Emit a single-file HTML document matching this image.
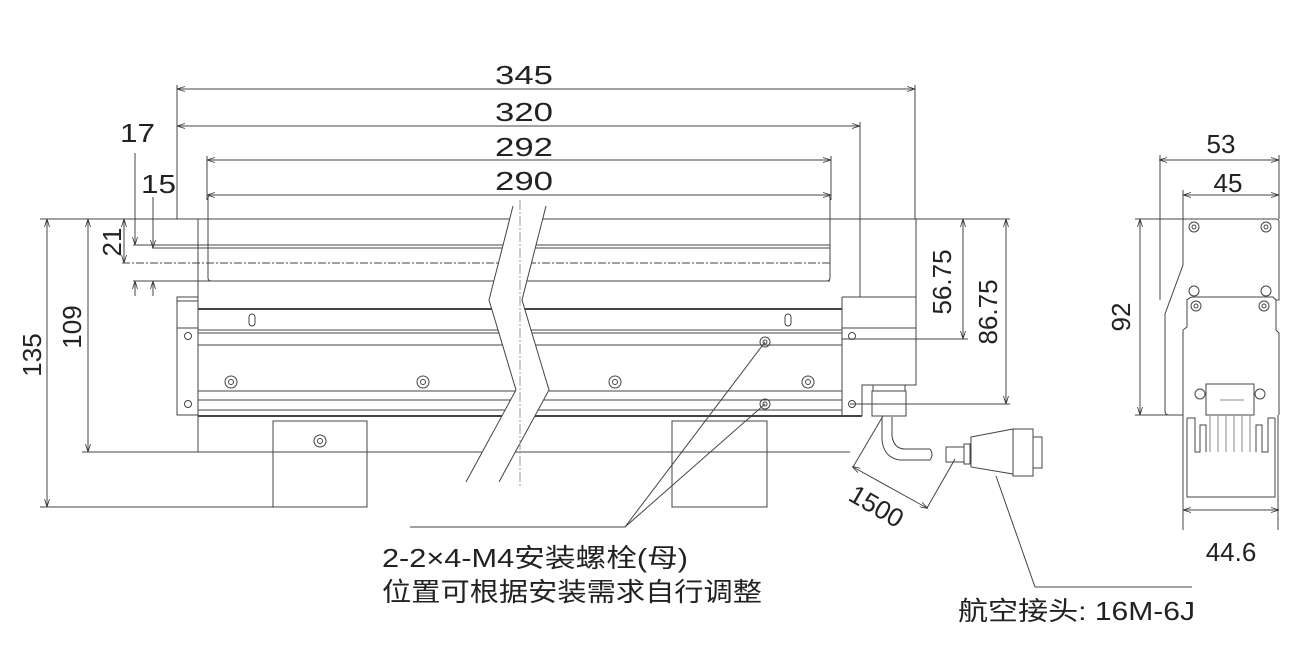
<!DOCTYPE html>
<html><head><meta charset="utf-8"><style>
html,body{margin:0;padding:0;background:#fff;width:1305px;height:653px;overflow:hidden}
text{font-family:"Liberation Sans","Noto Sans CJK SC",sans-serif;fill:#222}
</style></head><body>
<svg width="1305" height="653" viewBox="0 0 1305 653" xmlns="http://www.w3.org/2000/svg">
<defs><marker id="a" markerWidth="8" markerHeight="6" refX="7" refY="3" orient="auto-start-reverse" markerUnits="userSpaceOnUse"><path d="M0,0.5 L8,3 L0,5.5" fill="none" stroke="#333" stroke-width="0.8"/></marker></defs>
<g stroke="#444" stroke-width="1" fill="none">
<line x1="178" y1="89" x2="914" y2="89" marker-start="url(#a)" marker-end="url(#a)"/>
<line x1="178" y1="126" x2="859" y2="126" marker-start="url(#a)" marker-end="url(#a)"/>
<line x1="208" y1="160" x2="830" y2="160" marker-start="url(#a)" marker-end="url(#a)"/>
<line x1="208" y1="195" x2="830" y2="195" marker-start="url(#a)" marker-end="url(#a)"/>
<line x1="177" y1="85" x2="177" y2="219"/><line x1="915" y1="85" x2="915" y2="219"/>
<line x1="860" y1="122" x2="860" y2="219"/><line x1="207" y1="156" x2="207" y2="200"/><line x1="831" y1="156" x2="831" y2="200"/>
<line x1="40" y1="219" x2="1010" y2="219"/>
<line x1="40" y1="507" x2="273" y2="507"/>
<line x1="82" y1="452" x2="198" y2="452"/>
<line x1="47" y1="220" x2="47" y2="506" marker-start="url(#a)" marker-end="url(#a)"/>
<line x1="88" y1="220" x2="88" y2="451" marker-start="url(#a)" marker-end="url(#a)"/>
<line x1="124" y1="220" x2="124" y2="262" marker-start="url(#a)" marker-end="url(#a)"/>
<line x1="135" y1="153" x2="135" y2="244" marker-end="url(#a)"/>
<line x1="153" y1="197" x2="153" y2="247" marker-end="url(#a)"/>
<line x1="135" y1="296" x2="135" y2="282" marker-end="url(#a)"/>
<line x1="153" y1="296" x2="153" y2="282" marker-end="url(#a)"/>
<line x1="133" y1="245" x2="830" y2="245"/>
<line x1="152" y1="248" x2="830" y2="248"/>
<line x1="122" y1="263" x2="830" y2="263" stroke-dasharray="8 2 2 2"/>
<line x1="133" y1="281" x2="830" y2="281"/>
<rect x="208" y="195" width="622" height="86" rx="3"/>
<rect x="177" y="297" width="21" height="118"/><line x1="177" y1="328" x2="198" y2="328"/><line x1="177" y1="301" x2="198" y2="301"/>
<line x1="198" y1="219" x2="198" y2="452"/>
<line x1="198" y1="452" x2="850" y2="452"/>
<line x1="198" y1="309" x2="842" y2="309" stroke-width="2"/>
<line x1="198" y1="330" x2="842" y2="330"/><line x1="198" y1="333" x2="842" y2="333"/>
<line x1="198" y1="345" x2="842" y2="345"/>
<line x1="198" y1="391" x2="842" y2="391"/><line x1="198" y1="400" x2="842" y2="400"/><line x1="198" y1="410" x2="842" y2="410"/>
<line x1="198" y1="416" x2="862" y2="416" stroke-width="2"/>
<rect x="273" y="421" width="94" height="86"/><rect x="672" y="421" width="95" height="86"/>
<line x1="842" y1="297" x2="842" y2="416"/>
<polyline points="842,297 916,297 916,385 862,385 862,416"/>
<line x1="842" y1="328" x2="916" y2="328"/>
<line x1="860" y1="219" x2="860" y2="297"/><line x1="916" y1="219" x2="916" y2="297"/>
<circle cx="188" cy="336" r="3.5"/><circle cx="188" cy="404" r="3.5"/>
<circle cx="852" cy="336" r="3.5"/><circle cx="852" cy="404" r="3.5"/>
<g><circle cx="231" cy="382" r="6"/><circle cx="231" cy="382" r="2.5"/><circle cx="423" cy="382" r="6"/><circle cx="423" cy="382" r="2.5"/><circle cx="615" cy="382" r="6"/><circle cx="615" cy="382" r="2.5"/><circle cx="808" cy="382" r="6"/><circle cx="808" cy="382" r="2.5"/><circle cx="320" cy="441" r="6"/><circle cx="320" cy="441" r="2.5"/><circle cx="765" cy="342" r="5"/><circle cx="765" cy="342" r="2"/><circle cx="765" cy="404" r="5"/><circle cx="765" cy="404" r="2"/></g>
<rect x="249" y="314" width="6" height="12" rx="3"/><rect x="785" y="314" width="6" height="12" rx="3"/>
<polygon points="513,206 489,300 516,390 466,482 499,482 549,390 522,300 546,206" fill="#fff" stroke="none"/>
<polyline points="513,206 489,300 516,390 466,482"/>
<polyline points="546,206 522,300 549,390 499,482"/>
<line x1="520" y1="200" x2="520" y2="486" stroke-dasharray="10 2 2 2" stroke="#999"/>
<line x1="842" y1="339" x2="968" y2="339"/><line x1="850" y1="404" x2="1010" y2="404"/>
<line x1="963" y1="220" x2="963" y2="338" marker-start="url(#a)" marker-end="url(#a)"/>
<line x1="1006" y1="220" x2="1006" y2="403" marker-start="url(#a)" marker-end="url(#a)"/>
<rect x="873" y="385" width="32" height="6"/><rect x="872" y="391" width="34" height="25"/><line x1="872" y1="404" x2="906" y2="404"/>
<path d="M882,417 L882,440 Q884,458 900,460 L930,460 M892,417 L892,436 Q894,449 905,449 L930,449"/>
<path d="M930,449 Q934,455 930,460"/>
<rect x="946" y="447" width="18" height="15"/><rect x="964" y="444" width="6" height="20"/>
<polygon points="971,437 1013,429 1013,474 971,467"/>
<rect x="1013" y="429" width="20" height="47"/><rect x="1033" y="437" width="9" height="31"/>
<line x1="883" y1="416" x2="853" y2="467"/><line x1="955" y1="459" x2="927" y2="508"/>
<line x1="853" y1="467" x2="927" y2="508" marker-start="url(#a)" marker-end="url(#a)"/>
<polyline points="996,476 1035,587 1192,587"/>
<polyline points="765,342 625,527 410,527"/><line x1="765" y1="404" x2="625" y2="527"/>
<line x1="1160" y1="160" x2="1278" y2="160" marker-start="url(#a)" marker-end="url(#a)"/>
<line x1="1184" y1="195" x2="1278" y2="195" marker-start="url(#a)" marker-end="url(#a)"/>
<line x1="1160" y1="155" x2="1160" y2="300"/><line x1="1279" y1="155" x2="1279" y2="219"/><line x1="1183" y1="190" x2="1183" y2="219"/>
<line x1="1135" y1="219" x2="1183" y2="219"/><line x1="1135" y1="415" x2="1183" y2="415"/>
<line x1="1140" y1="220" x2="1140" y2="414" marker-start="url(#a)" marker-end="url(#a)"/>
<path d="M1183,219 L1276,219 Q1279,219 1279,222 L1279,300 L1276,300 L1276,330 L1279,333 L1279,415"/>
<path d="M1183,219 L1183,265 L1165,314 L1165,411 Q1165,415 1169,415 L1183,415"/>
<path d="M1183,330 L1187,327 L1187,300 Q1190,297 1193,297 L1273,297 L1276,300"/>
<line x1="1183" y1="330" x2="1183" y2="415"/>
<g><circle cx="1194" cy="227" r="5"/><circle cx="1194" cy="227" r="2"/><circle cx="1266" cy="227" r="5"/><circle cx="1266" cy="227" r="2"/><circle cx="1194" cy="291" r="5"/><circle cx="1266" cy="291" r="5"/><circle cx="1196" cy="306" r="5"/><circle cx="1196" cy="306" r="2"/><circle cx="1264" cy="306" r="5"/><circle cx="1264" cy="306" r="2"/><circle cx="1200" cy="394" r="5"/><circle cx="1260" cy="394" r="5"/></g>
<rect x="1206" y="384" width="48" height="31"/>
<path d="M1183,415 L1183,530 M1278,415 L1278,530 M1187,418 L1187,497 L1275,497 L1275,418"/>
<path d="M1187,418 L1195,418 L1195,452 L1200,452 L1200,425 L1206,425 L1206,452 M1256,452 L1256,425 L1262,425 L1262,452 L1268,452 L1268,418 L1275,418"/>
<path d="M1210,415 L1210,452 M1218,415 L1218,452 M1226,415 L1226,452 M1234,415 L1234,452 M1242,415 L1242,452 M1250,415 L1250,452 M1220,400 L1244,400" stroke="#888"/>
<line x1="1184" y1="510" x2="1278" y2="510" marker-start="url(#a)" marker-end="url(#a)"/>
</g>
<g font-size="26">
<text x="495" y="84" textLength="58" lengthAdjust="spacingAndGlyphs">345</text>
<text x="495" y="121" textLength="58" lengthAdjust="spacingAndGlyphs">320</text>
<text x="495" y="156" textLength="58" lengthAdjust="spacingAndGlyphs">292</text>
<text x="495" y="190" textLength="58" lengthAdjust="spacingAndGlyphs">290</text>
<text x="120" y="142" textLength="35" lengthAdjust="spacingAndGlyphs">17</text>
<text x="141" y="193" textLength="35" lengthAdjust="spacingAndGlyphs">15</text>
<text transform="translate(121,242) rotate(-90)" text-anchor="middle">21</text>
<text transform="translate(41,355) rotate(-90)" text-anchor="middle">135</text>
<text transform="translate(81,327) rotate(-90)" text-anchor="middle">109</text>
<text transform="translate(951,282) rotate(-90)" text-anchor="middle">56.75</text>
<text transform="translate(997,312) rotate(-90)" text-anchor="middle">86.75</text>
<text transform="translate(1130,317) rotate(-90)" text-anchor="middle">92</text>
<text x="1221" y="153" text-anchor="middle">53</text>
<text x="1228" y="192" text-anchor="middle">45</text>
<text x="1231" y="561" text-anchor="middle">44.6</text>
<text transform="translate(872,514) rotate(30)" text-anchor="middle">1500</text>
<text x="382" y="567" textLength="306" lengthAdjust="spacingAndGlyphs">2-2×4-M4安装螺栓(母)</text>
<text x="382" y="601" textLength="380" lengthAdjust="spacingAndGlyphs">位置可根据安装需求自行调整</text>
<text x="958" y="620" textLength="237" lengthAdjust="spacingAndGlyphs">航空接头: 16M-6J</text>
</g>
</svg>
</body></html>
